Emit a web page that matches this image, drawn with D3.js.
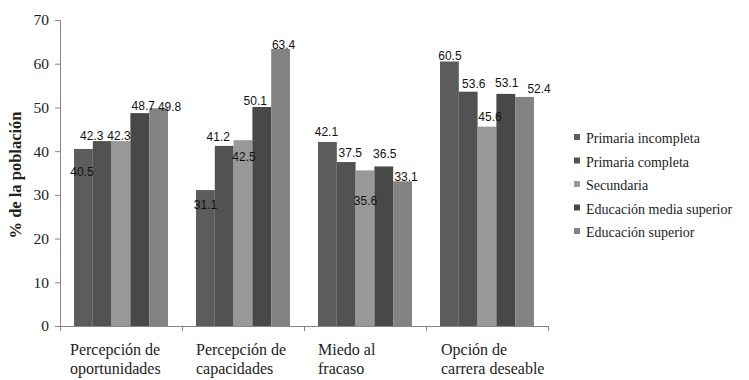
<!DOCTYPE html>
<html>
<head>
<meta charset="utf-8">
<script src="https://cdn.jsdelivr.net/npm/d3@7"></script>
<style>
  html, body { margin: 0; padding: 0; background: #fff; }
  svg { display: block; }
</style>
</head>
<body>
<svg id="chart" width="749" height="380"></svg>
<script>
// Indicator groups along the x axis (two-line labels)
const categories = [
  ["Percepción de", "oportunidades"],
  ["Percepción de", "capacidades"],
  ["Miedo al", "fracaso"],
  ["Opción de", "carrera deseable"]
];

// Education levels (one bar per level within each group)
const seriesNames = [
  "Primaria incompleta",
  "Primaria completa",
  "Secundaria",
  "Educación media superior",
  "Educación superior"
];

// Percent of population, one array per education level, in category order
const primariaIncompleta = [40.5, 31.1, 42.1, 60.5];
const primariaCompleta   = [42.3, 41.2, 37.5, 53.6];
const secundaria         = [42.3, 42.5, 35.6, 45.6];
const mediaSuperior      = [48.7, 50.1, 36.5, 53.1];
const superior           = [49.8, 63.4, 33.1, 52.4];
const seriesValues = [primariaIncompleta, primariaCompleta, secundaria, mediaSuperior, superior];

// Y axis ticks
const yTicks = [0, 10, 20, 30, 40, 50, 60, 70];

// Styling
const colors = ["#5c5c5c", "#525252", "#989898", "#484848", "#838383"];
const serif = "'Liberation Serif', 'DejaVu Serif', serif";
const sans = "'Liberation Sans', Arial, sans-serif";

// Hand-placed value label nudges [dx from bar centre, dy of label centre from bar top], px
const labelNudge = [
  [[-1.5, 23], [-10.5, -5], [-2, -5], [3.5, -7], [11, -2]],
  [[0, 15], [-6, -9], [1, 16], [-6.5, -6], [3, -4]],
  [[-1, -10], [4, -9], [0.5, 30], [1, -13], [3.5, -5]],
  [[0.5, -5.6], [5.5, -8], [3, -10], [1, -11], [14.5, -8]]
];
const catLabelIndent = [10, 14, 14, 15];

const svg = d3.select("#chart");
const plot = { left: 60, right: 548, top: 20, bottom: 326 };

const x0 = d3.scaleBand()
  .domain(d3.range(categories.length))
  .range([plot.left, plot.right])
  .padding(0);

const gap = x0.bandwidth() * 0.115;
const x1 = d3.scaleBand()
  .domain(d3.range(seriesNames.length))
  .range([gap, x0.bandwidth() - gap])
  .padding(0);

const y = d3.scaleLinear()
  .domain([0, 70])
  .range([plot.bottom, plot.top]);

// Bars
const groups = svg.append("g")
  .selectAll("g")
  .data(categories.map((c, ci) => ({ ci, vals: seriesValues.map(s => s[ci]) })))
  .join("g")
  .attr("transform", d => `translate(${x0(d.ci)},0)`);

groups.selectAll("rect")
  .data(d => d.vals.map((v, si) => ({ v, si, ci: d.ci })))
  .join("rect")
  .attr("x", d => x1(d.si))
  .attr("width", x1.bandwidth())
  .attr("y", d => y(d.v))
  .attr("height", d => y(0) - y(d.v))
  .attr("fill", d => colors[d.si]);

// Value labels
groups.selectAll("text")
  .data(d => d.vals.map((v, si) => ({ v, si, ci: d.ci })))
  .join("text")
  .attr("x", d => x1(d.si) + x1.bandwidth() / 2 + labelNudge[d.ci][d.si][0])
  .attr("y", d => y(d.v) + labelNudge[d.ci][d.si][1] + 4.3)
  .attr("text-anchor", "middle")
  .attr("font-family", sans)
  .attr("font-size", 12)
  .attr("fill", "#111")
  .text(d => d.v.toFixed(1));

// Y axis
const yAxis = svg.append("g")
  .attr("transform", `translate(${plot.left},0)`)
  .call(d3.axisLeft(y).tickValues(yTicks).tickSize(5).tickPadding(6).tickFormat(d3.format("d")));
yAxis.select(".domain").attr("stroke", "#868686");
yAxis.selectAll(".tick line").attr("stroke", "#868686");
yAxis.selectAll(".tick text")
  .attr("font-family", serif)
  .attr("font-size", 15.5)
  .attr("fill", "#222");

// X axis (ticks at group boundaries)
const boundaries = d3.range(categories.length + 1).map(i =>
  i < categories.length ? x0(i) : x0(categories.length - 1) + x0.bandwidth());
const xAxis = svg.append("g");
xAxis.append("line")
  .attr("x1", plot.left).attr("x2", plot.right)
  .attr("y1", y(0) + 0.5).attr("y2", y(0) + 0.5)
  .attr("stroke", "#868686");
xAxis.selectAll(".xt")
  .data(boundaries)
  .join("line")
  .attr("class", "xt")
  .attr("x1", d => Math.round(d) + 0.5).attr("x2", d => Math.round(d) + 0.5)
  .attr("y1", y(0)).attr("y2", y(0) + 5)
  .attr("stroke", "#868686");

// Category labels
const catText = svg.append("g")
  .selectAll("text")
  .data(categories)
  .join("text")
  .attr("font-family", serif)
  .attr("font-size", 16)
  .attr("fill", "#222");
catText.each(function (lines, i) {
  const t = d3.select(this);
  lines.forEach((line, li) => {
    t.append("tspan")
      .attr("x", x0(i) + catLabelIndent[i])
      .attr("y", 355 + li * 19)
      .text(line);
  });
});

// Y axis title
svg.append("text")
  .attr("transform", `translate(21,175) rotate(-90)`)
  .attr("text-anchor", "middle")
  .attr("font-family", serif)
  .attr("font-weight", "bold")
  .attr("font-size", 16.5)
  .attr("fill", "#222")
  .text("% de la población");

// Legend
const legend = svg.append("g")
  .selectAll("g")
  .data(seriesNames)
  .join("g")
  .attr("transform", (d, i) => `translate(574,${143 + i * 23.5})`);
legend.append("rect")
  .attr("x", 0).attr("y", -9)
  .attr("width", 6).attr("height", 6)
  .attr("fill", (d, i) => colors[i]);
legend.append("text")
  .attr("x", 12)
  .attr("y", 0)
  .attr("font-family", serif)
  .attr("font-size", 14)
  .attr("fill", "#222")
  .text(d => d);
</script>
</body>
</html>
